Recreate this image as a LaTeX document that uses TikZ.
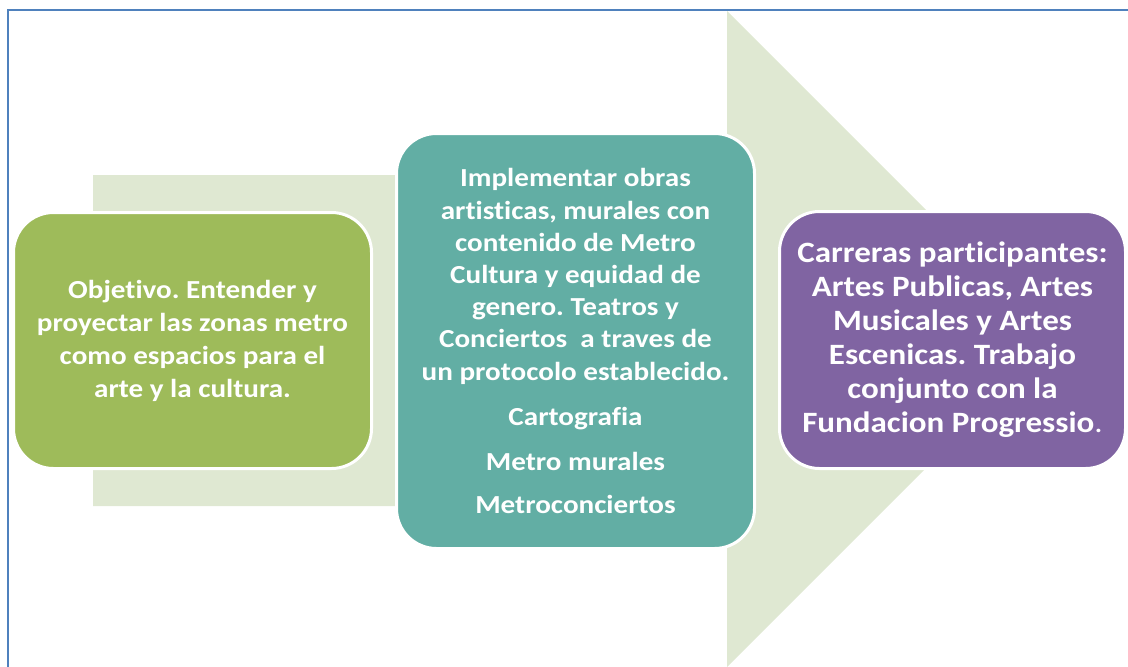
\documentclass[tikz,border=0pt]{standalone}
\usepackage{fontspec}
\setmainfont{Carlito}[FakeStretch=1.12, Ligatures=NoCommon]
\usepackage{xcolor}
\usepackage{tikz}
\usetikzlibrary{positioning}
\frenchspacing
\definecolor{FrameBlue}{RGB}{79, 129, 189}
\definecolor{ArrowGreen}{RGB}{223, 232, 210}
\definecolor{OliveGreen}{RGB}{158, 187, 90}
\definecolor{SeaTeal}{RGB}{98, 174, 164}
\definecolor{PlumPurple}{RGB}{128, 100, 162}
\tikzset{
    stagebox/.style={rectangle, rounded corners=40pt, draw=white, line width=3pt,
        text=white, align=center, inner sep=0pt},
}

\begin{document}
\begin{tikzpicture}[x=1pt, y=-1pt]
            \useasboundingbox (0,0) rectangle (1128,667);
            % frame
            \draw[FrameBlue, line width=1.5pt] (8,667) -- (8,10) -- (1128,10);
            % big arrow behind the boxes
            \fill[ArrowGreen] (93,175) -- (727,175) -- (727,11) -- (1055,339)
                -- (727,667) -- (727,506) -- (93,506) -- cycle;
            % stages
            \node[stagebox, fill=OliveGreen, minimum width=358pt, minimum height=256pt,
                font=\bfseries\fontsize{26}{33}\selectfont] (objetivo) at (192.5,340.5) {
                Objetivo. Entender y\\
                proyectar las zonas metro\\
                como espacios para el\\
                arte y la cultura.
            };
            \node[stagebox, fill=SeaTeal, minimum width=358pt, minimum height=415pt,
                font=\bfseries\fontsize{26}{32.2}\selectfont] (obras) at (575.5,341) {
                Implementar obras\\
                artisticas, murales con\\
                contenido de Metro\\
                Cultura y equidad de\\
                genero. Teatros y\\
                Conciertos\ \ a traves de\\
                un protocolo establecido.\\[12.8pt]
                Cartografia\\[12.8pt]
                Metro murales\\[10.8pt]
                Metroconciertos
            };
            \node[stagebox, fill=PlumPurple, minimum width=346pt, minimum height=257pt,
                font=\bfseries\fontsize{29.5}{34}\selectfont] (carreras) at (952.5,340) {
                Carreras participantes:\\
                Artes Publicas, Artes\\
                Musicales y Artes\\
                Escenicas. Trabajo\\
                conjunto con la\\
                Fundacion Progressio{\mdseries .}
            };
        \end{tikzpicture}
\end{document}
